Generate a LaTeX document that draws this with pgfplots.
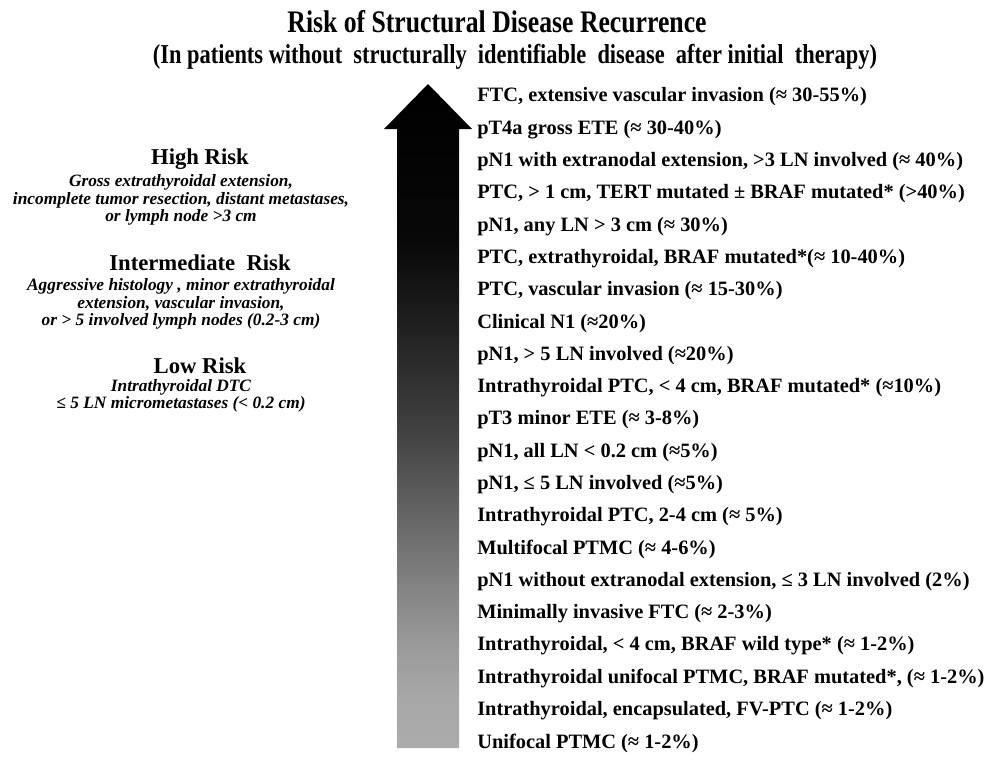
\documentclass[border=0pt]{standalone}
\usepackage{pgfplots}
\pgfplotsset{compat=1.18}
\usepackage{fontspec}
\setmainfont{Liberation Serif}
\newfontfamily\titlefont[FakeStretch=0.82]{Liberation Serif}

% arrow gradient: black at the head, light grey at the foot
\pgfdeclareverticalshading{arrowshade}{100bp}{
  color(0bp)=(black!33); color(25bp)=(black!33); color(28.6bp)=(black!34);
  color(32.4bp)=(black!39); color(39.2bp)=(black!53); color(49.7bp)=(black!76);
  color(57.2bp)=(black!88); color(63.3bp)=(black!97); color(75bp)=(black);
  color(100bp)=(black)}

\begin{document}
\begin{tikzpicture}
\begin{axis}[
  width=745.5pt, height=570pt, scale only axis,
  xmin=0, xmax=994, ymin=0, ymax=760, y dir=reverse,
  hide axis, clip=false,
]
% frame of the picture (pixel units)
\addplot[draw=none] coordinates {(0,0) (994,760)};

% risk arrow
\addplot[draw=none, shade, shading=arrowshade] coordinates {
  (397,748) (397,129) (384,129) (428,84) (472,129) (459,129) (459,748) (397,748)};

% titles
\node[font=\titlefont\bfseries\fontsize{23.5}{28}\selectfont] at (axis cs:497,22)
  {Risk of Structural Disease Recurrence};
\node[font=\titlefont\bfseries\fontsize{20.5}{24}\selectfont] at (axis cs:515,57)
  {(In patients without \ structurally \ identifiable \ disease \ after initial \ therapy)};

% risk categories
\begin{scope}[every node/.style={align=center, inner sep=0pt, font=\bfseries\fontsize{17}{20}\selectfont}]
\node at (axis cs:200,159) {High Risk};
\node at (axis cs:200,263) {Intermediate\ \ Risk};
\node at (axis cs:200,366) {Low Risk};
\end{scope}
\begin{scope}[every node/.style={align=center, inner sep=0pt, font=\bfseries\itshape\fontsize{13}{13}\selectfont}]
\node at (axis cs:181,200)
  {Gross extrathyroidal extension,\\incomplete tumor resection, distant metastases,\\or lymph node >3 cm};
\node at (axis cs:181,304)
  {Aggressive histology , minor extrathyroidal\\extension, vascular invasion,\\or > 5 involved lymph nodes (0.2-3 cm)};
\node at (axis cs:181,396)
  {Intrathyroidal DTC\\≤ 5 LN micrometastases (< 0.2 cm)};
\end{scope}

% findings, highest risk at the top
\begin{scope}[every node/.style={anchor=west, inner sep=0pt, font=\bfseries\fontsize{15.3}{18}\selectfont}]
\node at (axis cs:477,97.0) {FTC, extensive vascular invasion (≈ 30-55\%)};
\node at (axis cs:477,129.3) {pT4a gross ETE (≈ 30-40\%)};
\node at (axis cs:477,161.6) {pN1 with extranodal extension, >3 LN involved (≈ 40\%)};
\node at (axis cs:477,193.9) {PTC, > 1 cm, TERT mutated ± BRAF mutated* (>40\%)};
\node at (axis cs:477,226.2) {pN1, any LN > 3 cm (≈ 30\%)};
\node at (axis cs:477,258.5) {PTC, extrathyroidal, BRAF mutated*(≈ 10-40\%)};
\node at (axis cs:477,290.8) {PTC, vascular invasion (≈ 15-30\%)};
\node at (axis cs:477,323.1) {Clinical N1 (≈20\%)};
\node at (axis cs:477,355.4) {pN1, > 5 LN involved (≈20\%)};
\node at (axis cs:477,387.7) {Intrathyroidal PTC, < 4 cm, BRAF mutated* (≈10\%)};
\node at (axis cs:477,420.0) {pT3 minor ETE (≈ 3-8\%)};
\node at (axis cs:477,452.3) {pN1, all LN < 0.2 cm (≈5\%)};
\node at (axis cs:477,484.6) {pN1, ≤ 5 LN involved (≈5\%)};
\node at (axis cs:477,516.9) {Intrathyroidal PTC, 2-4 cm (≈ 5\%)};
\node at (axis cs:477,549.2) {Multifocal PTMC (≈ 4-6\%)};
\node at (axis cs:477,581.5) {pN1 without extranodal extension, ≤ 3 LN involved (2\%)};
\node at (axis cs:477,613.8) {Minimally invasive FTC (≈ 2-3\%)};
\node at (axis cs:477,646.1) {Intrathyroidal, < 4 cm, BRAF wild type* (≈ 1-2\%)};
\node at (axis cs:477,678.4) {Intrathyroidal unifocal PTMC, BRAF mutated*, (≈ 1-2\%)};
\node at (axis cs:477,710.7) {Intrathyroidal, encapsulated, FV-PTC (≈ 1-2\%)};
\node at (axis cs:477,743.0) {Unifocal PTMC (≈ 1-2\%)};
\end{scope}
\end{axis}
\end{tikzpicture}
\end{document}
